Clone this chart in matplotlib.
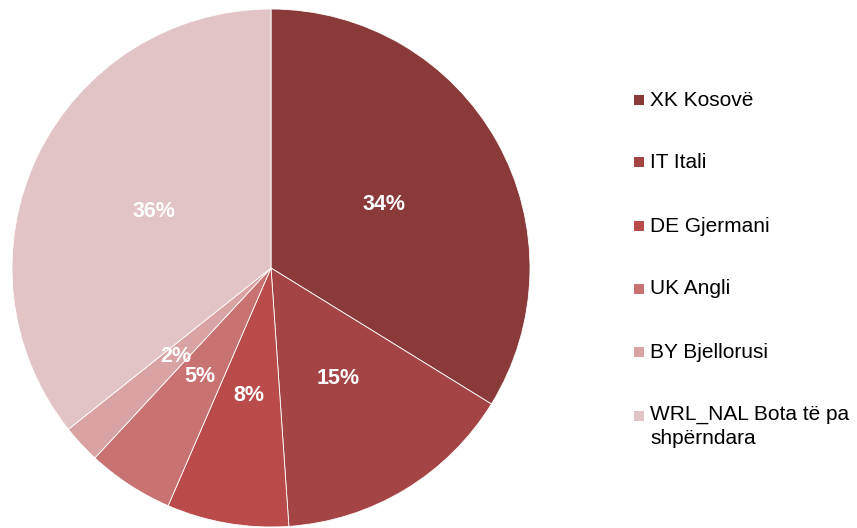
import matplotlib.pyplot as plt
from matplotlib.patches import Rectangle

plt.rcParams['font.family'] = ['Liberation Sans', 'DejaVu Sans']

labels = ["XK Kosovë", "IT Itali", "DE Gjermani", "UK Angli", "BY Bjellorusi",
          "WRL_NAL Bota të pa\nshpërndara"]
values = [33.8, 15.1, 7.6, 5.4, 2.4, 35.7]
colors = ["#8B3A3A", "#A44444", "#B94C4A", "#C87272", "#D9A3A3", "#E3C4C6"]

fig = plt.figure(figsize=(8.57, 5.28), dpi=100)
ax = fig.add_axes([12 / 857, 1 / 528, 518 / 857, 518 / 528])

wedges, texts, autotexts = ax.pie(values, colors=colors, startangle=90, counterclock=False,
                                  autopct="%1.0f%%", pctdistance=0.5,
                                  wedgeprops=dict(edgecolor="white", linewidth=0.6),
                                  textprops=dict(color="white", fontsize=15.5, fontweight="bold"))
ax.set_xlim(-1, 1)
ax.set_ylim(-1, 1)
ax.set_aspect("equal")

# legend drawn by hand to keep the square on the first line
ys = [100, 162, 226, 289, 352, 416]
for lab, col, y in zip(labels, colors, ys):
    fig.patches.append(Rectangle((634 / 857, 1 - (y + 5) / 528), 10 / 857, 10 / 528,
                                 transform=fig.transFigure, facecolor=col, edgecolor="none"))
    fig.text(650 / 857, 1 - y / 528, lab, fontsize=15, color="black",
             va="top" if "\n" in lab else "center", ha="left", linespacing=1.3)
# two-line entry: move top so the first line sits level with its square
fig.texts[-1].set_position((650 / 857, 1 - (y - 11) / 528))

fig.savefig("out.png", dpi=100)
